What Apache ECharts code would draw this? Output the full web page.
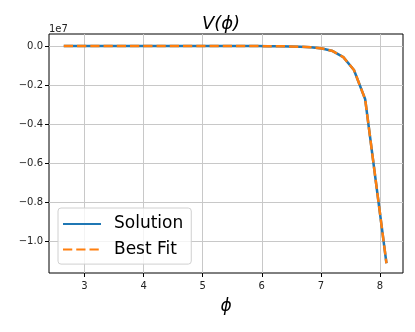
<!DOCTYPE html>
<html>
<head>
<meta charset="utf-8">
<script src="https://cdn.jsdelivr.net/npm/echarts@6/dist/echarts.min.js"></script>
<style>
  html, body { margin: 0; padding: 0; background: #fff; }
  #main { width: 415px; height: 332px; }
</style>
</head>
<body>
<div id="main"></div>
<script>
// phi samples and V(phi) in units of 1e7
const phi = [2.65, 2.83, 3.01, 3.20, 3.38, 3.56, 3.74, 3.92, 4.11, 4.29,
  4.47, 4.65, 4.83, 5.02, 5.20, 5.38, 5.56, 5.74, 5.93, 6.11,
  6.29, 6.47, 6.65, 6.83, 7.02, 7.20, 7.38, 7.56, 7.75, 8.11];
const solution = [-0.00001, -0.00001, -0.00002, -0.00002, -0.00003, -0.00004, -0.00005, -0.00006, -0.00008, -0.0001,
  -0.00012, -0.00015, -0.00018, -0.00022, -0.00027, -0.00033, -0.0004, -0.0005, -0.0006, -0.0009,
  -0.0014, -0.0023, -0.0038, -0.0065, -0.0125, -0.026, -0.057, -0.123, -0.273, -1.114];
const bestFit = [-0.00001, -0.00001, -0.00002, -0.00002, -0.00003, -0.00004, -0.00005, -0.00006, -0.00008, -0.0001,
  -0.00012, -0.00015, -0.00018, -0.00022, -0.00027, -0.00033, -0.0004, -0.0005, -0.0006, -0.0009,
  -0.0014, -0.0023, -0.0038, -0.0065, -0.0125, -0.026, -0.057, -0.123, -0.273, -1.114];
const xTicks = [3, 4, 5, 6, 7, 8];
const yTicks = [-1.0, -0.8, -0.6, -0.4, -0.2, 0.0];

const font = "DejaVu Sans";
const myChart = echarts.init(document.getElementById("main"));

const option = {
  animation: false,
  textStyle: { fontFamily: font },
  title: {
    text: "V(\u03d5)",
    left: 221,
    top: 15,
    padding: 0,
    textAlign: "center",
    textStyle: { fontFamily: font, fontStyle: "italic", fontWeight: "normal", fontSize: 18, color: "#000" },
  },
  graphic: [
    {
      type: "text",
      left: 49,
      top: 24,
      style: { text: "1e7", font: "10px DejaVu Sans", fill: "#222" },
    },
  ],
  legend: {
    orient: "vertical",
    left: 58,
    top: 208,
    padding: [7.5, 8, 6, 4],
    itemWidth: 38,
    itemHeight: 14,
    itemGap: 8.6,
    borderColor: "#d0d0d0",
    borderWidth: 1,
    borderRadius: 3,
    backgroundColor: "rgba(255,255,255,0.8)",
    // hide the marker dot, keep only the line sample
    itemStyle: { opacity: 0 },
    textStyle: { fontFamily: font, fontSize: 17, color: "#000", padding: [0, 0, 0, 8] },
    data: ["Solution", "Best Fit"],
  },
  grid: {
    left: 49,
    right: 12,
    top: 34,
    bottom: 59,
    show: true,
    borderColor: "#000",
    borderWidth: 1,
  },
  xAxis: {
    type: "value",
    min: 2.40,
    max: 8.39,
    name: "\u03d5",
    nameLocation: "middle",
    nameGap: 25,
    nameTextStyle: { fontFamily: font, fontStyle: "italic", fontSize: 17, color: "#000" },
    axisLine: { show: false, onZero: false },
    axisTick: { show: true, length: 4, customValues: xTicks, lineStyle: { color: "#000" } },
    axisLabel: { customValues: xTicks, fontSize: 10, color: "#222", margin: 8 },
    splitLine: { show: true, lineStyle: { color: "#c8c8c8", width: 1 } },
  },
  yAxis: {
    type: "value",
    min: -1.164,
    max: 0.0615,
    axisLine: { show: false, onZero: false },
    axisTick: { show: true, length: 4, customValues: yTicks, lineStyle: { color: "#000" } },
    axisLabel: {
      customValues: yTicks,
      fontSize: 10,
      color: "#222",
      margin: 6,
      formatter: (v) => v.toFixed(1).replace("-", "\u2212"),
    },
    splitLine: { show: true, lineStyle: { color: "#c8c8c8", width: 1 } },
  },
  series: [
    {
      name: "Solution",
      type: "line",
      showSymbol: false,
      symbol: "none",
      data: phi.map((p, i) => [p, solution[i]]),
      lineStyle: { color: "#1f77b4", width: 2.5 },
      itemStyle: { color: "#1f77b4" },
    },
    {
      name: "Best Fit",
      type: "line",
      showSymbol: false,
      symbol: "none",
      data: phi.map((p, i) => [p, bestFit[i]]),
      lineStyle: { color: "#ff7f0e", width: 2.5, type: [9.25, 4] },
      itemStyle: { color: "#ff7f0e" },
    },
  ],
};
myChart.setOption(option);
</script>
</body>
</html>
